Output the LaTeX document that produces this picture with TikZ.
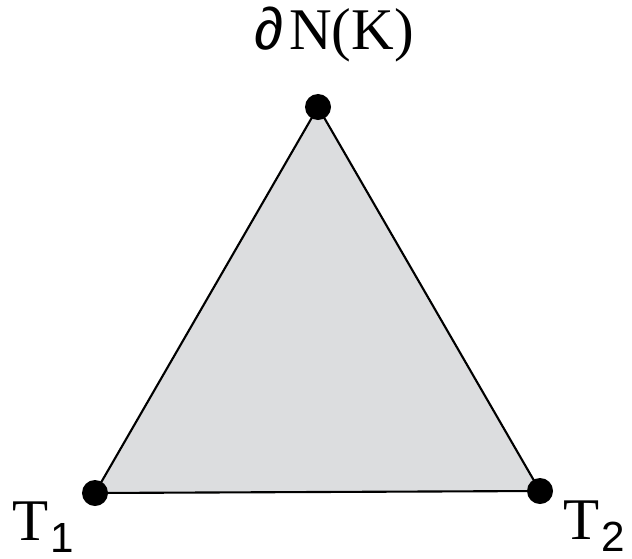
\documentclass[tikz,border=0pt]{standalone}
\usepackage{fontspec}
\setmainfont{Liberation Serif}
\newfontfamily\sublabelfont{Liberation Sans}
\definecolor{facegray}{RGB}{220,221,223}
\tikzset{
  vertex/.style={circle,fill=black,inner sep=0pt,minimum size=0.65cm},
  corner label/.style={inner sep=0pt,font=\fontsize{42}{42}\selectfont},
}
\begin{document}
\begin{tikzpicture}[x=0.025cm,y=-0.025cm]
  \useasboundingbox (0,0) rectangle (632,559);
  % Corners of the face.
  \coordinate (bdry) at (318,107);
  \coordinate (tone) at (95,493);
  \coordinate (ttwo) at (540,491);
  \filldraw[fill=facegray,line width=1.5pt,line join=round] (bdry) -- (tone) -- (ttwo) -- cycle;
  \node[vertex] (dbdry) at (bdry) {};
  \node[vertex] (dtone) at (tone) {};
  \node[vertex] (dttwo) at (ttwo) {};
  % Labels.
  \node[corner label,anchor=base] (lbdry) at (334,50)
    {{\sublabelfont ∂}\hspace{0.15cm}N(K)};
  \node[corner label,anchor=base west] (ltone) at (12,540)
    {T\hspace{0.05cm}{\sublabelfont\fontsize{30}{30}\selectfont\raisebox{-0.3cm}{1}}};
  \node[corner label,anchor=base west] (lttwo) at (563,539)
    {T\hspace{0.05cm}{\sublabelfont\fontsize{30}{30}\selectfont\raisebox{-0.3cm}{2}}};
\end{tikzpicture}
\end{document}
